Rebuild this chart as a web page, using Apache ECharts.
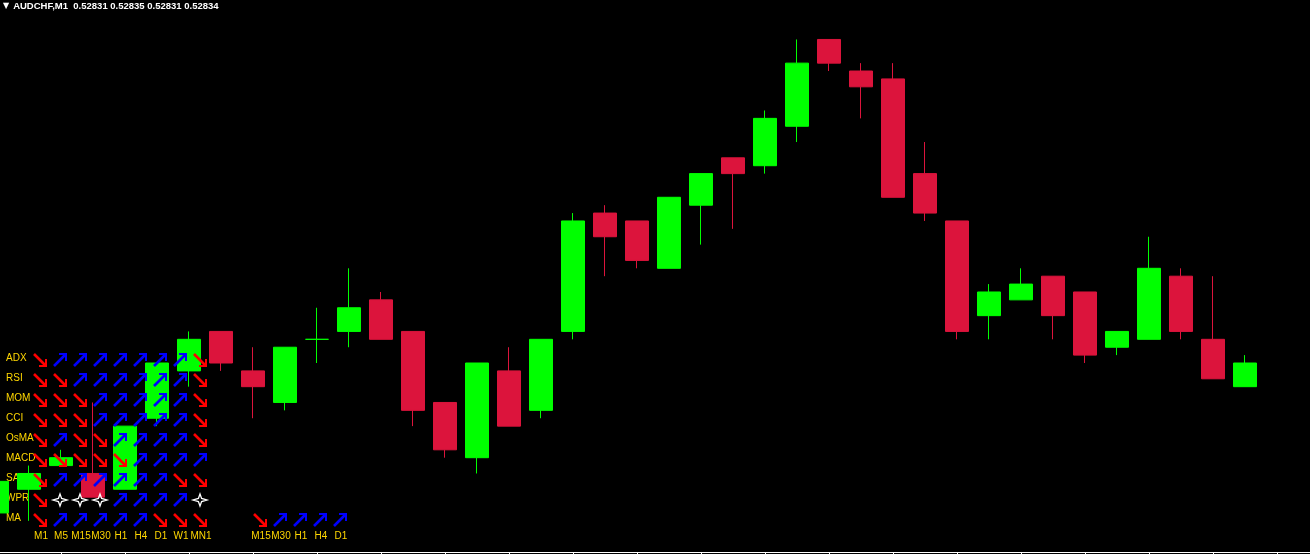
<!DOCTYPE html>
<html><head><meta charset="utf-8">
<script src="https://cdn.jsdelivr.net/npm/echarts@6/dist/echarts.min.js"></script>
<style>html,body{margin:0;padding:0;background:#000;}#c{width:1310px;height:554px;}</style>
</head><body><div id="c"></div><script>
// ---- data ----
const symbolName = 'AUDCHF,M1';
const openP  = [0.52815,0.52818,0.52821,0.52820,0.52818,0.52827,0.52833,0.52838,0.52833,0.52829,0.52837,0.52838,0.52842,0.52838,0.52829,0.52822,0.52833,0.52828,0.52838,0.52853,0.52852,0.52846,0.52854,0.52860,0.52859,0.52864,0.52875,0.52871,0.52870,0.52858,0.52852,0.52840,0.52842,0.52845,0.52843,0.52836,0.52837,0.52845,0.52837,0.52831];
const highP  = [0.52819,0.52821,0.52823,0.52829,0.52826,0.52834,0.52838,0.52838,0.52836,0.52836,0.52841,0.52846,0.52843,0.52838,0.52829,0.52834,0.52836,0.52837,0.52853,0.52854,0.52852,0.52855,0.52858,0.52860,0.52866,0.52875,0.52875,0.52872,0.52872,0.52862,0.52852,0.52844,0.52846,0.52845,0.52843,0.52838,0.52850,0.52846,0.52845,0.52835];
const lowP   = [0.52815,0.52814,0.52821,0.52817,0.52818,0.52826,0.52831,0.52833,0.52827,0.52828,0.52834,0.52836,0.52837,0.52826,0.52822,0.52820,0.52826,0.52827,0.52837,0.52845,0.52846,0.52846,0.52849,0.52851,0.52858,0.52862,0.52871,0.52865,0.52855,0.52852,0.52837,0.52837,0.52842,0.52837,0.52834,0.52835,0.52837,0.52837,0.52832,0.52831];
const closeP = [0.52819,0.52820,0.52822,0.52817,0.52826,0.52834,0.52837,0.52834,0.52831,0.52836,0.52837,0.52841,0.52837,0.52828,0.52823,0.52834,0.52826,0.52837,0.52852,0.52850,0.52847,0.52855,0.52858,0.52858,0.52865,0.52872,0.52872,0.52869,0.52855,0.52853,0.52838,0.52843,0.52844,0.52840,0.52835,0.52838,0.52846,0.52838,0.52832,0.52834];
const bidPrice = 0.52834;
const emptySlots = 2; // chart shift on the right

const indicators = ['ADX','RSI','MOM','CCI','OsMA','MACD','SAR','WPR','MA'];
const timeframes = ['M1','M5','M15','M30','H1','H4','D1','W1','MN1'];
// U = up arrow, D = down arrow, S = star
const signals = ['DUUUUUUUD','DDUUUUUUD','DDDUUUUUD','DDDUUUUUD','DUDDUUUUD','DDDDDUUUU','DUUUUUUDD','DSSSUUUUS','DUUUUUDDD'];
const maTimeframes = ['M15','M30','H1','H4','D1'];
const maSignals = 'DUUUU';

// ---- build ----
const n = openP.length;
const categories = [];
for (let i = 0; i < n + emptySlots; i++) categories.push(String(i));
const candleData = openP.map((o, i) => [o, closeP[i], lowP[i], highP[i]]);

const gap = 2;
const sigCats = timeframes.concat(new Array(gap).fill(''), maTimeframes);
const code = s => (s === 'U' ? 1 : (s === 'D' ? -1 : 0));
const sigData = [];
signals.forEach((row, r) => {
  row.split('').forEach((s, c) => sigData.push([c, r, code(s)]));
});
maSignals.split('').forEach((s, c) => sigData.push([timeframes.length + gap + c, indicators.length - 1, code(s)]));

const f5 = v => v.toFixed(5);
const titleText = symbolName + '  ' + [openP[n-1], highP[n-1], lowP[n-1], closeP[n-1]].map(f5).join(' ');

const GOLD = '#FFD700';
const chart = echarts.init(document.getElementById('c'), null, {renderer: 'canvas'});
chart.setOption({
  backgroundColor: '#000000',
  animation: false,
  title: {
    left: 3, top: 1, padding: 0,
    text: '{a|▼}{b|' + titleText + '}',
    textStyle: {
      rich: {
        a: {color: '#fff', fontSize: 8, fontFamily: 'DejaVu Sans', padding: [0, 4, 0, 0]},
        b: {color: '#fff', fontSize: 9.5, fontFamily: 'Liberation Sans'}
      }
    }
  },
  grid: [
    {left: -19, top: 0, width: 32 * (n + emptySlots), bottom: 2, outerBoundsMode: 'none', containLabel: false},
    {left: 31, top: 348, width: 20 * sigCats.length, height: 20 * indicators.length, outerBoundsMode: 'none'}
  ],
  xAxis: [
    {type: 'category', gridIndex: 0, data: categories, boundaryGap: true,
     axisLine: {show: true, lineStyle: {color: '#ffffff', width: 1}},
     axisTick: {show: true, interval: 1, alignWithLabel: true, length: 3, lineStyle: {color: '#ffffff'}},
     axisLabel: {show: false}, splitLine: {show: false}},
    {type: 'category', gridIndex: 1, data: sigCats, position: 'bottom',
     axisLine: {show: false}, axisTick: {show: false}, splitLine: {show: false},
     axisLabel: {show: true, interval: 0, color: GOLD, fontSize: 10, fontFamily: 'Liberation Sans', margin: 3}}
  ],
  yAxis: [
    {type: 'value', gridIndex: 0, min: 0.5281005, max: 0.5288, scale: true,
     axisLine: {show: false}, axisTick: {show: false}, axisLabel: {show: false}, splitLine: {show: false}},
    {type: 'category', gridIndex: 1, data: indicators, inverse: true,
     axisLine: {show: false}, axisTick: {show: false}, splitLine: {show: false},
     axisLabel: {show: true, interval: 0, color: GOLD, fontSize: 10, fontFamily: 'Liberation Sans', align: 'left', margin: 25}}
  ],
  series: [
    {
      type: 'candlestick', xAxisIndex: 0, yAxisIndex: 0, z: 2,
      data: candleData, barWidth: 24,
      itemStyle: {color: '#00FF00', color0: '#DC143C', borderColor: '#00FF00', borderColor0: '#DC143C', borderWidth: 1},
      markLine: {
        silent: true, symbol: 'none', z: 1, animation: false,
        label: {show: false},
        lineStyle: {color: '#778899', width: 1, type: 'solid'},
        emphasis: {disabled: true},
        data: [{yAxis: bidPrice}]
      }
    },
    {
      type: 'custom', xAxisIndex: 1, yAxisIndex: 1, z: 10, silent: true,
      data: sigData,
      renderItem: function (params, api) {
        const p = api.coord([api.value(0), api.value(1)]);
        const v = api.value(2);
        const cx = p[0] - 1, cy = p[1] + 2, h = 6;
        if (v === 0) {
          const a = 1.6;
          return {
            type: 'polygon',
            shape: {points: [[cx, cy - h], [cx + a, cy - a], [cx + h + 1, cy], [cx + a, cy + a], [cx, cy + h], [cx - a, cy + a], [cx - h - 1, cy], [cx - a, cy - a]]},
            style: {fill: 'none', stroke: '#FFFFFF', lineWidth: 1.3}
          };
        }
        const col = v === 1 ? '#0000FF' : '#FF0000';
        const sy = v === 1 ? -1 : 1; // direction of tip in y
        const tipX = cx + h, tipY = cy + sy * h;
        return {
          type: 'group',
          children: [
            {type: 'polyline', shape: {points: [[cx - h, cy - sy * h], [tipX, tipY]]},
             style: {stroke: col, lineWidth: 2.6, fill: 'none'}},
            {type: 'polyline', shape: {points: [[tipX - 7, tipY], [tipX, tipY], [tipX, tipY - sy * 7]]},
             style: {stroke: col, lineWidth: 2, fill: 'none', lineJoin: 'miter'}}
          ]
        };
      }
    }
  ]
});
</script></body></html>
